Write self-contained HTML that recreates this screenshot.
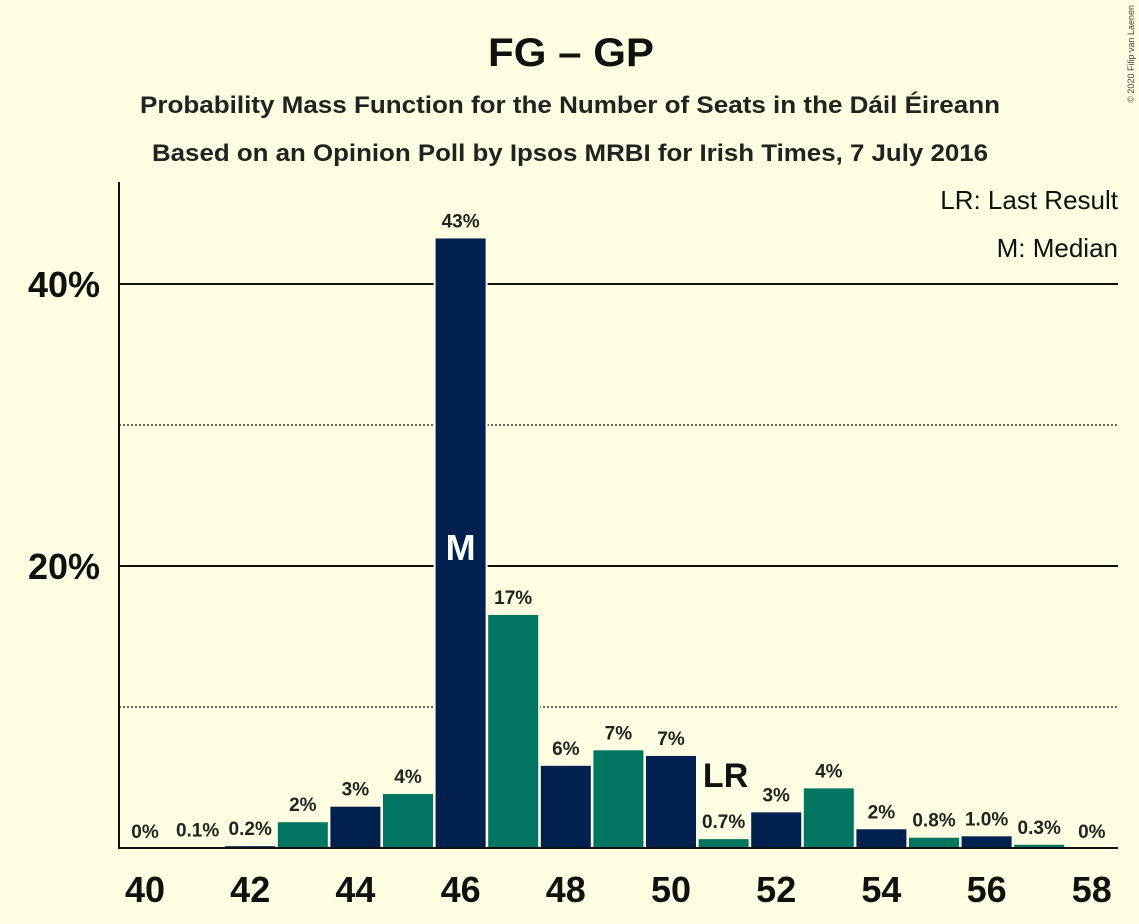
<!DOCTYPE html>
<html><head><meta charset="utf-8"><style>
body{margin:0;background:#fffde2;}
svg{display:block;font-family:"Liberation Sans",sans-serif;}
</style></head><body>
<svg width="1139" height="924">
<rect width="1139" height="924" fill="#fffde2"/>
<text x="571" y="66" text-anchor="middle" font-size="40" font-weight="bold" fill="#111" textLength="166" lengthAdjust="spacingAndGlyphs">FG – GP</text>
<text x="570" y="113" text-anchor="middle" font-size="24" font-weight="bold" fill="#222" textLength="860" lengthAdjust="spacingAndGlyphs">Probability Mass Function for the Number of Seats in the Dáil Éireann</text>
<text x="570" y="161" text-anchor="middle" font-size="24" font-weight="bold" fill="#222" textLength="836" lengthAdjust="spacingAndGlyphs">Based on an Opinion Poll by Ipsos MRBI for Irish Times, 7 July 2016</text>
<text x="1134" y="5" font-size="9" fill="#444" transform="rotate(-90 1134 5)" text-anchor="end">© 2020 Filip van Laenen</text>
<g id="grid"></g>
<g id="bars"></g>
<g id="labels"></g>
<line x1="119" y1="182" x2="119" y2="849" stroke="#111" stroke-width="2"/>
<line x1="118" y1="848" x2="1118" y2="848" stroke="#111" stroke-width="2"/>
<text x="1118" y="209" text-anchor="end" font-size="26" fill="#111">LR: Last Result</text>
<text x="1118" y="257" text-anchor="end" font-size="26" fill="#111">M: Median</text>
</svg>
<script>
const seats=[40,41,42,43,44,45,46,47,48,49,50,51,52,53,54,55,56,57,58];
const probs=[0,0.1,0.2,1.9,3.0,3.9,43.3,16.6,5.9,7.0,6.6,0.7,2.6,4.3,1.4,0.8,0.9,0.3,0];
const valueLabels=["0%","0.1%","0.2%","2%","3%","4%","43%","17%","6%","7%","7%","0.7%","3%","4%","2%","0.8%","1.0%","0.3%","0%"];
const yTicks=[20,40];
const yMinor=[10,30];
const xTickLabels=[40,42,44,46,48,50,52,54,56,58];
const medianSeat=46, lastResult=51;
const NS="http://www.w3.org/2000/svg";
const x=s=>145+(s-40)*52.6;
const y=v=>848-v*14.1;
function mk(tag,attrs,parent,text){const e=document.createElementNS(NS,tag);for(const k in attrs)e.setAttribute(k,attrs[k]);if(text!==undefined)e.textContent=text;parent.appendChild(e);return e;}
const grid=document.getElementById('grid'),bars=document.getElementById('bars'),labels=document.getElementById('labels'),svg=document.querySelector('svg');
yTicks.forEach(t=>{const l=mk('line',{x1:119,x2:1118,y1:y(t),y2:y(t),stroke:'#111','stroke-width':2},grid);


const tx=mk('text',{x:100,y:y(t)+13,'text-anchor':'end','font-size':36,'font-weight':'bold',fill:'#111'},svg,t+'%');

});
yMinor.forEach(t=>{const l=mk('line',{x1:119,x2:1118,y1:y(t),y2:y(t),stroke:'#111','stroke-width':1.2,'stroke-dasharray':'2,2'},grid);

});
seats.forEach((s,i)=>{const v=probs[i];const col=i%2===0?'#002050':'#007562';
if(v>0){const r=mk('rect',{x:x(s)-26,y:y(v),width:52,height:848-y(v),fill:col,stroke:'#fffde2','stroke-width':2},bars);

}
const t=mk('text',{x:x(s),y:y(v)-10,'text-anchor':'middle','font-size':19,'font-weight':'bold',fill:'#222'},labels,valueLabels[i]);


if(s===medianSeat){const m=mk('text',{x:x(s),y:560,'text-anchor':'middle','font-size':36,'font-weight':'bold',fill:'#fff'},labels,'M');

}
if(s===lastResult){const m=mk('text',{x:x(s)+2,y:y(v)-51,'text-anchor':'middle','font-size':34,'font-weight':'bold',fill:'#111'},labels,'LR');

}
});
xTickLabels.forEach(s=>{const t=mk('text',{x:x(s),y:902,'text-anchor':'middle','font-size':36,'font-weight':'bold',fill:'#111'},svg,String(s));

});
</script>
</body></html>
